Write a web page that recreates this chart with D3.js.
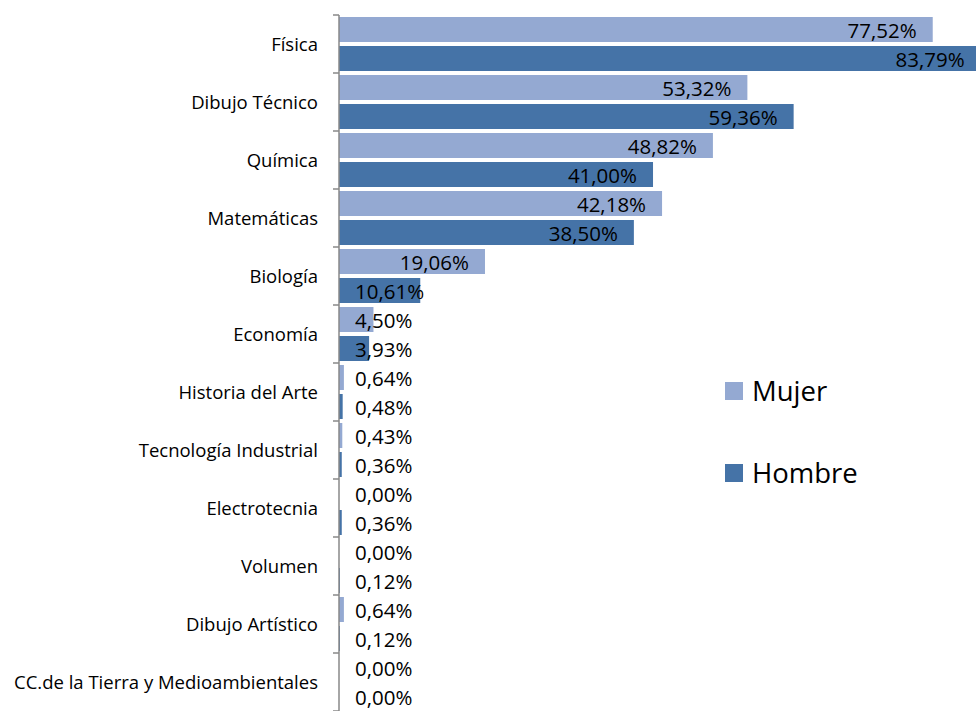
<!DOCTYPE html>
<html><head><meta charset="utf-8">
<script src="https://cdn.jsdelivr.net/npm/d3@7"></script>
<style>body{margin:0;background:#fff;}svg{display:block;}</style>
</head><body>
<svg id="c" width="976" height="711"></svg>
<script>
const categories = ["Física","Dibujo Técnico","Química","Matemáticas","Biología","Economía","Historia del Arte","Tecnología Industrial","Electrotecnia","Volumen","Dibujo Artístico","CC.de la Tierra y Medioambientales"];
const seriesNames = ["Mujer","Hombre"];
const mujer = [77.52,53.32,48.82,42.18,19.06,4.50,0.64,0.43,0.00,0.00,0.64,0.00];
const hombre = [83.79,59.36,41.00,38.50,10.61,3.93,0.48,0.36,0.36,0.12,0.12,0.00];
const colors = ["#94A9D2","#4573A7"];

const svg = d3.select("#c");
const font = "'Open Sans', sans-serif";
const x0 = 339;
const x = d3.scaleLinear().domain([0,100]).range([x0, x0+765.9]);
const y = d3.scaleBand().domain(categories).range([15, 711]).paddingInner(0).paddingOuter(0);
const ys = d3.scaleBand().domain(seriesNames).range([0, y.bandwidth()]).paddingInner(4/29).paddingOuter(2/29);

const rows = categories.map((c,i)=>({cat:c, vals:[{s:"Mujer",v:mujer[i]},{s:"Hombre",v:hombre[i]}]}));
const fmt = v => v.toFixed(2).replace(".", ",") + "%";

const g = svg.selectAll("g.cat").data(rows).join("g").attr("class","cat")
  .attr("transform", d=>`translate(0,${y(d.cat)})`);
g.selectAll("rect").data(d=>d.vals).join("rect")
  .attr("x", x(0)).attr("y", d=>ys(d.s))
  .attr("width", d=>x(d.v)-x(0)).attr("height", ys.bandwidth())
  .attr("fill", (d,i)=>colors[i]);
g.selectAll("text.lbl").data(d=>d.vals).join("text").attr("class","lbl")
  .attr("y", d=>ys(d.s)+ys.bandwidth()/2+1).attr("dy","0.36em")
  .attr("font-family", font).attr("font-size", 20.5).attr("fill","#000")
  .attr("text-anchor","end")
  .text(d=>fmt(d.v))
  .attr("x", function(d){ const w=this.getComputedTextLength(); return Math.max(x(d.v)-16, 355+w); });

// axis
const axis = d3.axisLeft(y).tickSize(0).tickPadding(21);
const ag = svg.append("g").attr("transform",`translate(${x0},0)`).call(axis);
ag.select(".domain").remove();
ag.selectAll("text").attr("font-family", font).attr("font-size", 18.5).attr("fill","#000").attr("dy","0.4em");
svg.append("line").attr("x1",x0).attr("x2",x0).attr("y1",15).attr("y2",711).attr("stroke","#888").attr("stroke-width",1.5);
svg.selectAll("line.tk").data(categories.map(c=>y(c)).concat([y.range()[1]])).join("line").attr("class","tk")
  .attr("x1",x0-6).attr("x2",x0).attr("y1",d=>d).attr("y2",d=>d).attr("stroke","#888").attr("stroke-width",1.5);

// legend
const lg = svg.selectAll("g.leg").data(seriesNames).join("g").attr("class","leg")
  .attr("transform",(d,i)=>`translate(725,${382+i*82})`);
lg.append("rect").attr("width",18).attr("height",18).attr("fill",(d,i)=>colors[i]);
lg.append("text").attr("x",27).attr("y",9).attr("dy","0.36em").attr("font-family",font).attr("font-size",27.5).attr("fill","#000").text(d=>d);
</script>
</body></html>
